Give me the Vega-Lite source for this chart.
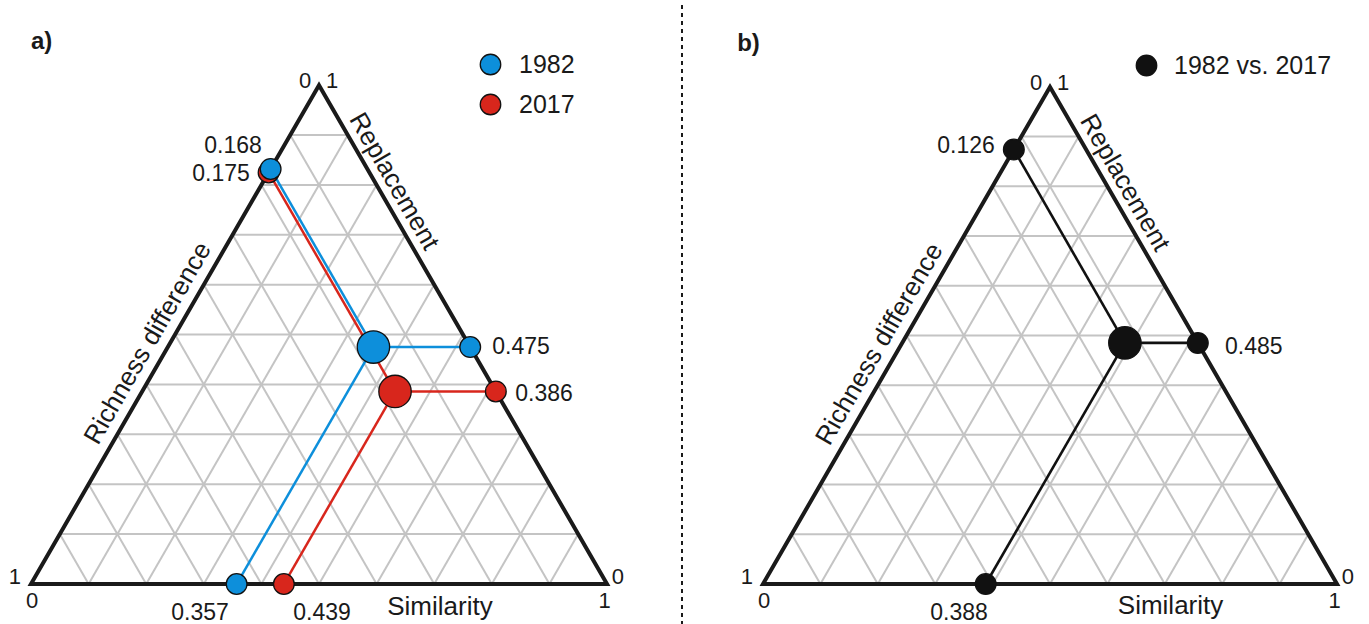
{
  "$schema": "https://vega.github.io/schema/vega-lite/v6.json",
  "padding": 0,
  "spacing": 0,
  "bounds": "flush",
  "background": "white",
  "config": {
    "view": {"stroke": null},
    "axis": {"disable": true},
    "font": "Liberation Sans",
    "text": {"font": "Liberation Sans", "color": "#1a1a1a"}
  },
  "resolve": {
    "scale": {"x": "independent", "y": "independent", "fill": "independent"},
    "legend": {"fill": "independent"}
  },
  "datasets": {
    "grid": [
      {"x": 0.05, "y": 0.0866, "x2": 0.95, "y2": 0.0866},
      {"x": 0.1, "y": 0.1732, "x2": 0.9, "y2": 0.1732},
      {"x": 0.15, "y": 0.2598, "x2": 0.85, "y2": 0.2598},
      {"x": 0.2, "y": 0.3464, "x2": 0.8, "y2": 0.3464},
      {"x": 0.25, "y": 0.433, "x2": 0.75, "y2": 0.433},
      {"x": 0.3, "y": 0.5196, "x2": 0.7, "y2": 0.5196},
      {"x": 0.35, "y": 0.6062, "x2": 0.65, "y2": 0.6062},
      {"x": 0.4, "y": 0.6928, "x2": 0.6, "y2": 0.6928},
      {"x": 0.45, "y": 0.7794, "x2": 0.55, "y2": 0.7794},
      {"x": 0.1, "y": 0, "x2": 0.55, "y2": 0.7794},
      {"x": 0.2, "y": 0, "x2": 0.6, "y2": 0.6928},
      {"x": 0.3, "y": 0, "x2": 0.65, "y2": 0.6062},
      {"x": 0.4, "y": 0, "x2": 0.7, "y2": 0.5196},
      {"x": 0.5, "y": 0, "x2": 0.75, "y2": 0.433},
      {"x": 0.6, "y": 0, "x2": 0.8, "y2": 0.3464},
      {"x": 0.7, "y": 0, "x2": 0.85, "y2": 0.2598},
      {"x": 0.8, "y": 0, "x2": 0.9, "y2": 0.1732},
      {"x": 0.9, "y": 0, "x2": 0.95, "y2": 0.0866},
      {"x": 0.1, "y": 0, "x2": 0.05, "y2": 0.0866},
      {"x": 0.2, "y": 0, "x2": 0.1, "y2": 0.1732},
      {"x": 0.3, "y": 0, "x2": 0.15, "y2": 0.2598},
      {"x": 0.4, "y": 0, "x2": 0.2, "y2": 0.3464},
      {"x": 0.5, "y": 0, "x2": 0.25, "y2": 0.433},
      {"x": 0.6, "y": 0, "x2": 0.3, "y2": 0.5196},
      {"x": 0.7, "y": 0, "x2": 0.35, "y2": 0.6062},
      {"x": 0.8, "y": 0, "x2": 0.4, "y2": 0.6928},
      {"x": 0.9, "y": 0, "x2": 0.45, "y2": 0.7794}
    ],
    "tri": [
      {"i": 0, "x": 0, "y": 0},
      {"i": 1, "x": 1, "y": 0},
      {"i": 2, "x": 0.5, "y": 0.866},
      {"i": 3, "x": 0, "y": 0},
      {"i": 4, "x": 1, "y": 0}
    ],
    "corners": [
      {"t": "0", "x": 0.476, "y": 0.861},
      {"t": "1", "x": 0.523, "y": 0.861},
      {"t": "1", "x": -0.028, "y": 0.0},
      {"t": "0", "x": 0.002, "y": -0.0417},
      {"t": "0", "x": 1.019, "y": 0.0},
      {"t": "1", "x": 0.996, "y": -0.0417}
    ],
    "titles": [
      {"t": "Similarity", "kind": "bottom", "x": 0.71, "y": -0.053},
      {"t": "Replacement", "kind": "right", "x": 0.63, "y": 0.699},
      {"t": "Richness difference", "kind": "left", "x": 0.203, "y": 0.418}
    ],
    "ptsA": [
      {"year": "2017", "kind": "center", "x": 0.632, "y": 0.3343, "cx": 0.632, "cy": 0.3343},
      {"year": "2017", "kind": "left", "x": 0.4125, "y": 0.7145, "cx": 0.632, "cy": 0.3343},
      {"year": "2017", "kind": "right", "x": 0.807, "y": 0.3343, "cx": 0.632, "cy": 0.3343},
      {"year": "2017", "kind": "bottom", "x": 0.439, "y": 0, "cx": 0.632, "cy": 0.3343},
      {"year": "1982", "kind": "center", "x": 0.5945, "y": 0.4114, "cx": 0.5945, "cy": 0.4114},
      {"year": "1982", "kind": "left", "x": 0.416, "y": 0.7205, "cx": 0.5945, "cy": 0.4114},
      {"year": "1982", "kind": "right", "x": 0.7625, "y": 0.4114, "cx": 0.5945, "cy": 0.4114},
      {"year": "1982", "kind": "bottom", "x": 0.357, "y": 0, "cx": 0.5945, "cy": 0.4114}
    ],
    "labA": [
      {"t": "0.175", "x": 0.3299, "y": 0.6997},
      {"t": "0.386", "x": 0.8906, "y": 0.3177},
      {"t": "0.439", "x": 0.5052, "y": -0.0625},
      {"t": "0.168", "x": 0.3507, "y": 0.748},
      {"t": "0.475", "x": 0.8507, "y": 0.3993},
      {"t": "0.357", "x": 0.2934, "y": -0.0625}
    ],
    "ptsB": [
      {"pair": "1982 vs. 2017", "kind": "center", "x": 0.6305, "y": 0.42, "cx": 0.6305, "cy": 0.42},
      {"pair": "1982 vs. 2017", "kind": "left", "x": 0.437, "y": 0.7569, "cx": 0.6305, "cy": 0.42},
      {"pair": "1982 vs. 2017", "kind": "right", "x": 0.7575, "y": 0.42, "cx": 0.6305, "cy": 0.42},
      {"pair": "1982 vs. 2017", "kind": "bottom", "x": 0.388, "y": 0, "cx": 0.6305, "cy": 0.42}
    ],
    "labB": [
      {"t": "0.126", "x": 0.3537, "y": 0.751},
      {"t": "0.485", "x": 0.855, "y": 0.4007},
      {"t": "0.388", "x": 0.3415, "y": -0.0625}
    ],
    "tagA": [{"t": "a)", "x": 0.0, "y": 0.929}],
    "tagB": [{"t": "b)", "x": -0.045, "y": 0.929}],
    "divider": [{"x": 1.1302, "y": -0.0712, "y2": 1.0121}]
  },
  "hconcat": [
    {
      "width": 683,
      "height": 624,
      "encoding": {
        "x": {"field": "x", "type": "quantitative", "scale": {"domain": [-0.05382, 1.13194], "nice": false, "zero": false}},
        "y": {"field": "y", "type": "quantitative", "scale": {"domain": [-0.07118, 1.01215], "nice": false, "zero": false}}
      },
      "layer": [
        {"data": {"name": "grid"}, "mark": {"type": "rule", "color": "#c4c4c4", "strokeWidth": 2}, "encoding": {"x2": {"field": "x2"}, "y2": {"field": "y2"}}},
        {"data": {"name": "tri"}, "mark": {"type": "line", "color": "#1a1a1a", "strokeWidth": 4, "strokeJoin": "miter", "strokeMiterLimit": 10}, "encoding": {"order": {"field": "i", "type": "quantitative"}}},
        {"data": {"name": "ptsA"}, "transform": [{"filter": "datum.kind != 'center' && datum.year == '2017'"}], "mark": {"type": "rule", "strokeWidth": 2.5, "color": "#d8261c"}, "encoding": {"x2": {"field": "cx"}, "y2": {"field": "cy"}}},
        {"data": {"name": "ptsA"}, "transform": [{"filter": "datum.kind != 'center' && datum.year == '1982'"}], "mark": {"type": "rule", "strokeWidth": 2.5, "color": "#0d8fdb"}, "encoding": {"x2": {"field": "cx"}, "y2": {"field": "cy"}}},
        {"data": {"name": "ptsA"}, "transform": [{"filter": "datum.kind != 'center'"}], "mark": {"type": "point", "shape": "circle", "filled": true, "size": 430, "opacity": 1, "stroke": "#111", "strokeWidth": 1.3},
          "encoding": {"fill": {"field": "year", "type": "nominal", "scale": {"domain": ["1982", "2017"], "range": ["#0d8fdb", "#d8261c"]},
            "legend": {"title": null, "orient": "none", "legendX": 478, "legendY": 51, "symbolType": "circle", "symbolSize": 420, "labelFontSize": 25, "labelFont": "Liberation Sans", "labelColor": "#1a1a1a", "labelOffset": 16, "rowPadding": 13, "padding": 0, "symbolOpacity": 1, "symbolStrokeColor": "#111", "symbolStrokeWidth": 1.3,
              "encode": {"symbols": {"update": {"stroke": {"value": "#111"}, "strokeWidth": {"value": 1.3}}}}}}}},
        {"data": {"name": "ptsA"}, "transform": [{"filter": "datum.kind == 'center'"}], "mark": {"type": "point", "shape": "circle", "filled": true, "size": 1050, "opacity": 1, "stroke": "#111", "strokeWidth": 1.3},
          "encoding": {"fill": {"field": "year", "type": "nominal", "scale": {"domain": ["1982", "2017"], "range": ["#0d8fdb", "#d8261c"]},
            "legend": {"title": null, "orient": "none", "legendX": 478, "legendY": 51, "symbolType": "circle", "symbolSize": 420, "labelFontSize": 25, "labelFont": "Liberation Sans", "labelColor": "#1a1a1a", "labelOffset": 16, "rowPadding": 13, "padding": 0, "symbolOpacity": 1, "symbolStrokeColor": "#111", "symbolStrokeWidth": 1.3,
              "encode": {"symbols": {"update": {"stroke": {"value": "#111"}, "strokeWidth": {"value": 1.3}}}}}}}},
        {"data": {"name": "labA"}, "mark": {"type": "text", "fontSize": 23, "align": "center", "baseline": "alphabetic"}, "encoding": {"text": {"field": "t"}}},
        {"data": {"name": "corners"}, "mark": {"type": "text", "fontSize": 22, "align": "center", "baseline": "alphabetic"}, "encoding": {"text": {"field": "t"}}},
        {"data": {"name": "titles"}, "transform": [{"filter": "datum.kind == 'bottom'"}], "mark": {"type": "text", "fontSize": 26, "align": "center", "baseline": "alphabetic"}, "encoding": {"text": {"field": "t"}}},
        {"data": {"name": "titles"}, "transform": [{"filter": "datum.kind == 'right'"}], "mark": {"type": "text", "fontSize": 26, "align": "center", "baseline": "middle", "angle": 60}, "encoding": {"text": {"field": "t"}}},
        {"data": {"name": "titles"}, "transform": [{"filter": "datum.kind == 'left'"}], "mark": {"type": "text", "fontSize": 26, "align": "center", "baseline": "middle", "angle": 300}, "encoding": {"text": {"field": "t"}}},
        {"data": {"name": "tagA"}, "mark": {"type": "text", "fontSize": 24, "fontWeight": "bold", "align": "left", "baseline": "alphabetic"}, "encoding": {"text": {"field": "t"}}},
        {"data": {"name": "divider"}, "mark": {"type": "rule", "color": "#1a1a1a", "strokeWidth": 2, "strokeDash": [4, 4]}, "encoding": {"y2": {"field": "y2"}}}
      ]
    },
    {
      "width": 686,
      "height": 624,
      "encoding": {
        "x": {"field": "x", "type": "quantitative", "scale": {"domain": [-0.13937, 1.05575], "nice": false, "zero": false}},
        "y": {"field": "y", "type": "quantitative", "scale": {"domain": [-0.07143, 1.01568], "nice": false, "zero": false}}
      },
      "layer": [
        {"data": {"name": "grid"}, "mark": {"type": "rule", "color": "#c4c4c4", "strokeWidth": 2}, "encoding": {"x2": {"field": "x2"}, "y2": {"field": "y2"}}},
        {"data": {"name": "tri"}, "mark": {"type": "line", "color": "#1a1a1a", "strokeWidth": 4, "strokeJoin": "miter", "strokeMiterLimit": 10}, "encoding": {"order": {"field": "i", "type": "quantitative"}}},
        {"data": {"name": "ptsB"}, "transform": [{"filter": "datum.kind != 'center'"}], "mark": {"type": "rule", "strokeWidth": 2.6, "color": "#111"}, "encoding": {"x2": {"field": "cx"}, "y2": {"field": "cy"}}},
        {"data": {"name": "ptsB"}, "transform": [{"filter": "datum.kind != 'center'"}], "mark": {"type": "point", "shape": "circle", "filled": true, "size": 430, "opacity": 1, "stroke": "#111", "strokeWidth": 1.3},
          "encoding": {"fill": {"field": "pair", "type": "nominal", "scale": {"domain": ["1982 vs. 2017"], "range": ["#111111"]},
            "legend": {"title": null, "orient": "none", "legendX": 451, "legendY": 52, "symbolType": "circle", "symbolSize": 420, "labelFontSize": 25, "labelFont": "Liberation Sans", "labelColor": "#1a1a1a", "labelOffset": 15, "padding": 0, "symbolOpacity": 1, "symbolStrokeColor": "#111", "symbolStrokeWidth": 1.3,
              "encode": {"symbols": {"update": {"stroke": {"value": "#111"}, "strokeWidth": {"value": 1.3}}}}}}}},
        {"data": {"name": "ptsB"}, "transform": [{"filter": "datum.kind == 'center'"}], "mark": {"type": "point", "shape": "circle", "filled": true, "size": 1050, "opacity": 1, "stroke": "#111", "strokeWidth": 1.3},
          "encoding": {"fill": {"field": "pair", "type": "nominal", "scale": {"domain": ["1982 vs. 2017"], "range": ["#111111"]},
            "legend": {"title": null, "orient": "none", "legendX": 451, "legendY": 52, "symbolType": "circle", "symbolSize": 420, "labelFontSize": 25, "labelFont": "Liberation Sans", "labelColor": "#1a1a1a", "labelOffset": 15, "padding": 0, "symbolOpacity": 1, "symbolStrokeColor": "#111", "symbolStrokeWidth": 1.3,
              "encode": {"symbols": {"update": {"stroke": {"value": "#111"}, "strokeWidth": {"value": 1.3}}}}}}}},
        {"data": {"name": "labB"}, "mark": {"type": "text", "fontSize": 23, "align": "center", "baseline": "alphabetic"}, "encoding": {"text": {"field": "t"}}},
        {"data": {"name": "corners"}, "mark": {"type": "text", "fontSize": 22, "align": "center", "baseline": "alphabetic"}, "encoding": {"text": {"field": "t"}}},
        {"data": {"name": "titles"}, "transform": [{"filter": "datum.kind == 'bottom'"}], "mark": {"type": "text", "fontSize": 26, "align": "center", "baseline": "alphabetic"}, "encoding": {"text": {"field": "t"}}},
        {"data": {"name": "titles"}, "transform": [{"filter": "datum.kind == 'right'"}], "mark": {"type": "text", "fontSize": 26, "align": "center", "baseline": "middle", "angle": 60}, "encoding": {"text": {"field": "t"}}},
        {"data": {"name": "titles"}, "transform": [{"filter": "datum.kind == 'left'"}], "mark": {"type": "text", "fontSize": 26, "align": "center", "baseline": "middle", "angle": 300}, "encoding": {"text": {"field": "t"}}},
        {"data": {"name": "tagB"}, "mark": {"type": "text", "fontSize": 24, "fontWeight": "bold", "align": "left", "baseline": "alphabetic"}, "encoding": {"text": {"field": "t"}}}
      ]
    }
  ]
}
